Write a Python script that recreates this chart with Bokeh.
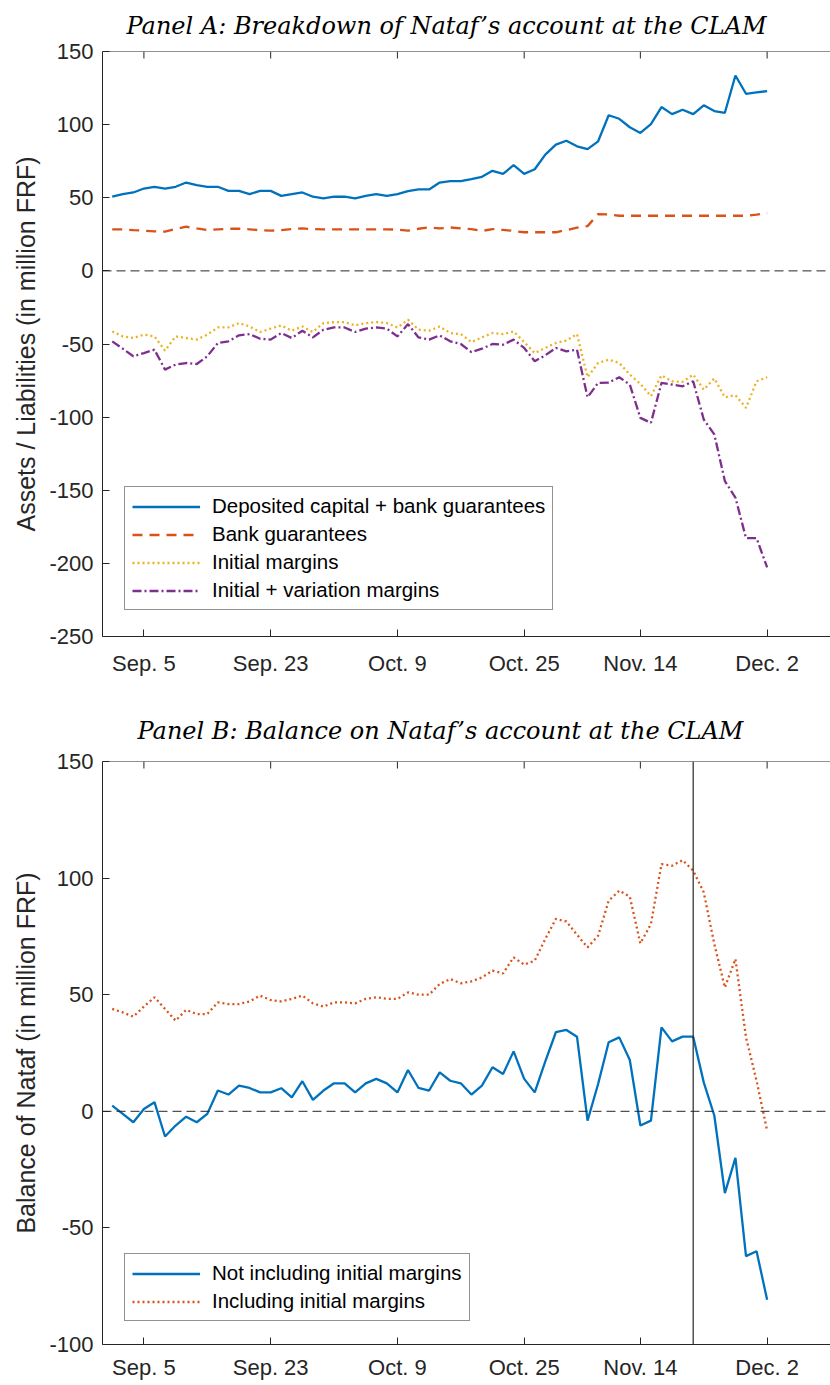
from bokeh.plotting import figure
from bokeh.models import FixedTicker, Span, Legend, LegendItem, Range1d
from bokeh.layouts import column
from bokeh.embed import file_html
from bokeh.resources import INLINE

# ---- data (trading-day index, Sep. 2 .. Dec. 2) ----
days = list(range(63))
tick_pos = [3, 15, 27, 39, 50, 62]
tick_labels = ["Sep. 5", "Sep. 23", "Oct. 9", "Oct. 25", "Nov. 14", "Dec. 2"]

deposited = [50.7, 52.5, 53.6, 56.3, 57.5, 56.3, 57.5, 60.4, 58.6, 57.5,
             57.5, 54.7, 54.7, 52.5, 54.7, 54.7, 51.3, 52.5, 53.6, 50.7,
             49.5, 50.7, 50.7, 49.5, 51.3, 52.5, 51.3, 52.5, 54.5, 55.7,
             55.7, 60.4, 61.4, 61.4, 62.7, 64.3, 68.4, 66.3, 72.3, 66.3,
             69.5, 79.5, 86.3, 89.0, 85.2, 83.2, 88.6, 106.4, 104.0, 98.2,
             94.3, 100.4, 112.0, 107.2, 110.2, 107.2, 113.2, 109.3, 108.1, 133.6,
             121.1, 122.0, 122.9]
bank = [28.4, 28.4, 27.8, 27.5, 27.0, 26.8, 28.6, 30.2, 29.0, 28.0,
        28.4, 28.8, 28.8, 28.4, 27.8, 27.5, 27.8, 28.6, 29.0, 28.6,
        28.4, 28.4, 28.4, 28.4, 28.4, 28.4, 28.4, 28.2, 27.5, 28.8,
        29.7, 29.0, 29.7, 29.0, 28.6, 27.3, 28.6, 28.0, 27.3, 26.4,
        26.4, 26.4, 26.4, 27.9, 29.5, 30.6, 38.8, 38.6, 37.7, 37.7,
        37.7, 37.7, 37.7, 37.7, 37.7, 37.7, 37.7, 37.7, 37.7, 37.7,
        37.7, 38.5, 39.5]
initial = [-41.4, -44.8, -45.9, -43.6, -44.8, -54.5, -44.8, -45.9, -47.0, -43.6,
           -38.7, -38.7, -35.7, -38.0, -41.8, -39.5, -37.3, -40.9, -38.0, -41.8,
           -35.7, -35.0, -35.0, -37.3, -35.7, -35.0, -35.7, -38.7, -33.4, -40.2,
           -40.9, -38.0, -42.5, -43.2, -48.7, -45.5, -42.5, -43.2, -41.4, -48.7,
           -56.2, -52.7, -49.3, -47.7, -43.2, -72.7, -63.0, -60.7, -63.0, -70.9,
           -77.3, -85.7, -71.4, -75.5, -75.9, -70.9, -81.2, -73.6, -86.4, -85.0,
           -93.7, -75.5, -72.7]
init_var = [-48.2, -53.2, -58.4, -56.2, -53.9, -67.5, -64.1, -63.0, -63.7, -58.4,
            -49.3, -48.2, -44.1, -43.2, -46.4, -47.0, -42.5, -45.9, -40.9, -45.5,
            -40.2, -38.7, -38.7, -41.8, -39.5, -38.7, -39.5, -44.8, -36.4, -45.5,
            -47.0, -44.1, -48.2, -50.0, -55.5, -53.2, -50.0, -50.5, -47.0, -52.7,
            -61.8, -57.7, -52.7, -55.0, -53.9, -86.4, -76.6, -76.4, -72.7, -77.7,
            -100.5, -103.9, -76.6, -77.7, -78.9, -75.5, -101.6, -111.8, -143.7, -155.0,
            -182.7, -182.7, -202.8]
not_incl = [2.4, -1.1, -4.7, 1.0, 3.9, -10.8, -6.1, -2.3, -4.7, -1.1,
            8.9, 7.2, 11.0, 10.0, 8.1, 8.1, 9.9, 6.0, 12.9, 4.9,
            8.9, 12.0, 12.0, 8.1, 12.0, 13.9, 12.0, 8.1, 17.7, 10.0,
            8.9, 16.7, 13.1, 12.0, 7.2, 11.0, 18.9, 16.0, 25.7, 13.9,
            8.1, 21.4, 33.9, 34.9, 32.0, -4.0, 11.7, 29.6, 31.7, 22.0,
            -6.1, -4.0, 36.0, 30.0, 32.0, 32.0, 12.4, -1.8, -35.1, -20.0,
            -62.1, -60.0, -80.8]
incl = [43.9, 42.4, 40.6, 44.9, 48.9, 43.9, 38.9, 43.5, 41.7, 41.7,
        46.7, 46.0, 46.0, 47.1, 49.6, 47.7, 47.1, 48.2, 49.6, 46.3,
        44.9, 46.7, 46.7, 46.3, 48.2, 48.9, 48.2, 48.2, 51.0, 50.0,
        50.0, 54.6, 56.7, 54.9, 55.7, 57.4, 60.3, 59.1, 66.0, 62.9,
        64.6, 73.9, 82.5, 81.4, 75.7, 70.3, 75.3, 90.3, 94.6, 92.0,
        72.0, 80.3, 106.0, 105.3, 107.7, 103.2, 93.9, 71.7, 53.1, 65.3,
        31.7, 13.1, -8.3]
event_day = 55

yticks_a = [-250, -200, -150, -100, -50, 0, 50, 100, 150]
yticks_b = [-100, -50, 0, 50, 100, 150]

AX = "#262626"
SANS = "Liberation Sans"
BLUE, ORANGE, YELLOW, PURPLE = "#0072BD", "#D95319", "#EDB120", "#7E2F8E"


def make_panel(title, ylabel, yticks, ylo, yhi, height, top, bottom,
               title_standoff, title_offset, xlab_standoff):
    frame_h = height - top - bottom
    p = figure(width=830, height=height, output_backend="svg", toolbar_location=None,
               x_range=Range1d(-0.92, 68.0), y_range=Range1d(ylo, yhi),
               min_border_left=102, min_border_right=0, min_border_top=top,
               min_border_bottom=bottom, outline_line_color=None,
               background_fill_color="white", border_fill_color="white")
    p.xgrid.visible = False
    p.ygrid.visible = False
    p.title.text = title
    p.title.align = "left"
    p.title.offset = title_offset
    p.title.vertical_align = "top"
    p.title.text_font = "DejaVu Serif"
    p.title.text_font_style = "italic"
    p.title.text_font_size = "24px"
    p.title.text_color = "black"
    p.title.standoff = title_standoff

    xa = p.xaxis[0]
    xa.ticker = FixedTicker(ticks=tick_pos)
    xa.major_label_overrides = dict(zip(tick_pos, tick_labels))
    xa.major_label_standoff = xlab_standoff
    ya = p.yaxis[0]
    ya.ticker = FixedTicker(ticks=yticks)
    ya.major_label_overrides = {t: str(t) for t in yticks}
    ya.major_label_standoff = 9
    ya.axis_label = ylabel
    ya.axis_label_text_font = SANS
    ya.axis_label_text_font_size = "25px"
    ya.axis_label_text_font_style = "normal"
    ya.axis_label_text_color = AX
    ya.axis_label_standoff = 6
    for ax in (xa, ya):
        ax.axis_line_color = AX
        ax.axis_line_width = 1
        ax.major_tick_line_color = AX
        ax.major_tick_in = 7
        ax.major_tick_out = 0
        ax.minor_tick_line_color = None
        ax.major_label_text_font = SANS
        ax.major_label_text_font_size = "22px"
        ax.major_label_text_color = AX

    # top box line with inward ticks (MATLAB style box, right side cropped)
    p.add_layout(Span(location=yhi, dimension="width", line_color=AX, line_width=1))
    tick_len = 7.0 * (yhi - ylo) / frame_h
    p.segment(x0=tick_pos, y0=[yhi] * len(tick_pos), x1=tick_pos,
              y1=[yhi - tick_len] * len(tick_pos), line_color=AX, line_width=1)
    p.add_layout(Span(location=0, dimension="width", line_color=AX, line_width=1,
                      line_dash="9 5"))
    return p


def add_legend(p, items, loc):
    lg = Legend(items=items, location=loc, label_text_font=SANS, label_text_font_size="20.5px",
                label_text_color="black", glyph_width=68, glyph_height=21, label_height=21,
                label_standoff=12, spacing=4, padding=7, margin=0,
                border_line_color=AX, border_line_width=1, background_fill_alpha=1)
    p.add_layout(lg)


# ---- Panel A ----
pa = make_panel("Panel A: Breakdown of Nataf\u2019s account at the CLAM",
                "Assets / Liabilities (in million FRF)", yticks_a, -250, 150,
                700, 51, 64, 20, 24, 14)
r1 = pa.line(days, deposited, line_color=BLUE, line_width=2.3)
r2 = pa.line(days, bank, line_color=ORANGE, line_width=2.3, line_dash="10 7")
r3 = pa.line(days, initial, line_color=YELLOW, line_width=2.3, line_dash="2 3")
r4 = pa.line(days, init_var, line_color=PURPLE, line_width=2.3, line_dash="9 3 2 3")
add_legend(pa, [LegendItem(label="Deposited capital + bank guarantees", renderers=[r1]),
                LegendItem(label="Bank guarantees", renderers=[r2]),
                LegendItem(label="Initial margins", renderers=[r3]),
                LegendItem(label="Initial + variation margins", renderers=[r4])], (22, 26))

# ---- Panel B ----
pb = make_panel("Panel B: Balance on Nataf\u2019s account at the CLAM",
                "Balance of Nataf (in million FRF)", yticks_b, -100, 150,
                685, 61, 41, 30, 35, 10)
pb.add_layout(Span(location=event_day, dimension="height", line_color=AX, line_width=1.2))
s1 = pb.line(days, not_incl, line_color=BLUE, line_width=2.3)
s2 = pb.line(days, incl, line_color=ORANGE, line_width=2.3, line_dash="2 3")
add_legend(pb, [LegendItem(label="Not including initial margins", renderers=[s1]),
                LegendItem(label="Including initial margins", renderers=[s2])], (22, 23))

layout = column(pa, pb, spacing=0)
open("out.html", "w").write(file_html(layout, INLINE))
